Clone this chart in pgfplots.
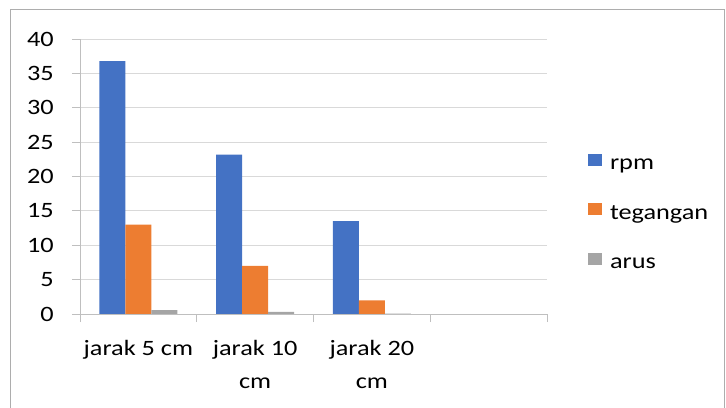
\documentclass[border=0pt]{standalone}
\usepackage{pgfplots}
\pgfplotsset{compat=1.18}
\usepackage{fontspec}
\setmainfont{Carlito}[FakeStretch=1.2]
\definecolor{cblue}{HTML}{4472C4}
\definecolor{corange}{HTML}{ED7D31}
\definecolor{cgray}{HTML}{A5A5A5}
\definecolor{gridc}{HTML}{D9D9D9}
\definecolor{axc}{HTML}{BFBFBF}
\definecolor{borderc}{HTML}{ADADAD}
\begin{document}
\begin{tikzpicture}
\path[use as bounding box] (0bp,0bp) rectangle (726bp,408bp);
\draw[color=borderc, line width=1bp] (10bp,-2bp) -- (10bp,398bp) -- (724bp,398bp) -- (724bp,-2bp);
\begin{axis}[
  at={(80bp,94bp)}, anchor=south west,
  scale only axis, width=467bp, height=275bp,
  xmin=-0.5, xmax=3.5, ymin=0, ymax=40,
  ytick={0,5,...,40},
  xtick={0,1,2,3},
  xticklabels={jarak 5 cm,{jarak 10\\cm},{jarak 20\\cm},{}},
  minor xtick={-0.5,0.5,1.5,2.5,3.5},
  axis lines=left,
  axis line style={-, draw=axc, line width=1bp},
  tick align=outside,
  major tick length=8bp, minor tick length=8bp,
  every major x tick/.append style={draw=none},
  every minor x tick/.append style={draw=axc, line width=1bp},
  every major y tick/.append style={draw=axc, line width=1bp},
  ymajorgrids,
  major grid style={draw=gridc, line width=1bp},
  ticklabel style={font=\fontsize{22}{33}\selectfont, inner sep=0pt},
  /pgf/number format/assume math mode=true,
  yticklabel style={anchor=east, xshift=-18bp},
  xticklabel style={anchor=north, align=center, yshift=-18bp},
  ybar=0pt, bar width=26bp,
  legend style={draw=none, fill=none, at={(1.081,0.371)}, anchor=west,
    font=\fontsize{22}{26}\selectfont, row sep=32bp, column sep=8bp,
    nodes={inner sep=0pt}},
  legend cell align=left,
  legend image code/.code={\fill[#1] (0bp,-1bp) rectangle (14bp,11bp);},
]
\addplot[fill=cblue, draw=none] coordinates {(0,36.8) (1,23.2) (2,13.5)};
\addplot[fill=corange, draw=none] coordinates {(0,13.0) (1,7.0) (2,2.0)};
\addplot[fill=cgray, draw=none] coordinates {(0,0.55) (1,0.3) (2,0.05)};
\legend{rpm,tegangan,arus}
\end{axis}
\end{tikzpicture}
\end{document}
